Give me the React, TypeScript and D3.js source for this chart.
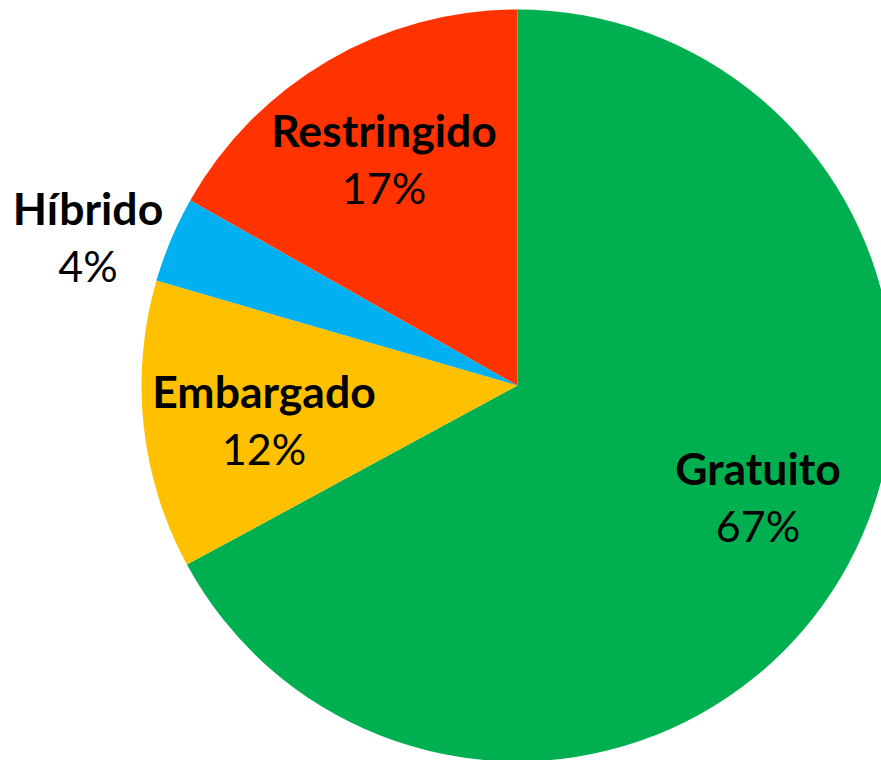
import { useEffect, useRef } from "react";
import * as d3 from "d3";

const categories = ["Gratuito", "Embargado", "Híbrido", "Restringido"];
const shares = [67.1, 12.4, 3.7, 16.8];
const percentLabels = ["67%", "12%", "4%", "17%"];
const colors = ["#00B050", "#FFC000", "#00B0F0", "#FF3300"];

// label anchors (center of the name line), hand placed like Excel's best fit
const labelPos: [number, number][] = [
  [758, 485],
  [264, 408],
  [88, 225],
  [384, 147],
];

const App = () => {
  const ref = useRef<SVGSVGElement | null>(null);

  useEffect(() => {
    document.body.style.margin = "0";
    const width = 881;
    const height = 760;
    const cx = 517.5;
    const cy = 385.5;
    const radius = 376;

    const svg = d3.select(ref.current);
    svg.selectAll("*").remove();
    svg.attr("width", width).attr("height", height);

    const data = categories.map((name, i) => ({ name, value: shares[i], i }));

    const pie = d3
      .pie<{ name: string; value: number; i: number }>()
      .sort(null)
      .value((d) => d.value)
      .startAngle(0)
      .endAngle(2 * Math.PI);

    const arc = d3
      .arc<d3.PieArcDatum<{ name: string; value: number; i: number }>>()
      .innerRadius(0)
      .outerRadius(radius);

    const g = svg.append("g").attr("transform", `translate(${cx},${cy})`);

    g.selectAll("path")
      .data(pie(data))
      .join("path")
      .attr("d", arc)
      .attr("fill", (d) => colors[d.data.i]);

    const labels = svg
      .append("g")
      .attr("font-family", "Lato, 'Open Sans', sans-serif")
      .attr("text-anchor", "middle")
      .attr("fill", "#000");

    data.forEach((d, i) => {
      const [x, y] = labelPos[i];
      labels
        .append("text")
        .attr("x", x)
        .attr("y", y)
        .attr("font-size", 44.5)
        .attr("font-weight", 700)
        .text(d.name);
      labels
        .append("text")
        .attr("x", x)
        .attr("y", y + 57)
        .attr("font-size", 43)
        .text(percentLabels[i]);
    });

    return () => {
      svg.selectAll("*").remove();
    };
  }, []);

  return <svg ref={ref} style={{ display: "block" }}></svg>;
};

export default App;
